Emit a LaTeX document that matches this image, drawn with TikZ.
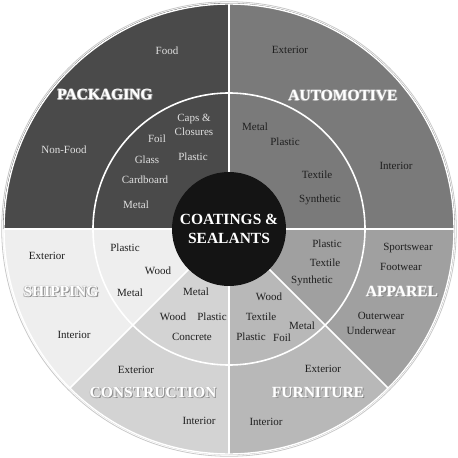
\documentclass[tikz,border=0pt]{standalone}
\usepackage{fontspec}
\setmainfont{Liberation Serif}
\definecolor{packc}{HTML}{4A4A4A}
\definecolor{autoc}{HTML}{7A7A7A}
\definecolor{appc}{HTML}{A0A0A0}
\definecolor{furnc}{HTML}{B8B8B8}
\definecolor{consc}{HTML}{D3D3D3}
\definecolor{shipc}{HTML}{EEEEEE}
\definecolor{rimc}{HTML}{C8C8C8}
\tikzset{
  sub/.style={font=\fontsize{11}{13}\selectfont, text=black!88, inner sep=0pt},
  subl/.style={sub, text=black!12},
  head/.style={font=\bfseries\fontsize{15.5}{18}\selectfont, text=white, inner sep=0pt},
  sep/.style={white, line width=1.6pt}
}
% white title text with a soft glow and shadow
\newcommand{\glowtext}[1]{\leavevmode
  \rlap{\kern1.1pt\raisebox{-1.1pt}{\color{black!50}#1}}%
  \rlap{\kern-0.55pt\raisebox{0.55pt}{\color{black!28}#1}}%
  \rlap{\kern0.55pt\raisebox{0.55pt}{\color{black!28}#1}}%
  \rlap{\kern-0.55pt\raisebox{-0.55pt}{\color{black!28}#1}}%
  #1}
\begin{document}
\begin{tikzpicture}[x=1pt,y=1pt]
		\useasboundingbox (-229,-229) rectangle (229,229);
		% sectors
		\fill[packc] (0,0) -- (90:226) arc[start angle=90,end angle=180,radius=226] -- cycle;
		\fill[autoc] (0,0) -- (0:226) arc[start angle=0,end angle=90,radius=226] -- cycle;
		\fill[appc] (0,0) -- (-45:226) arc[start angle=-45,end angle=0,radius=226] -- cycle;
		\fill[furnc] (0,0) -- (-90:226) arc[start angle=-90,end angle=-45,radius=226] -- cycle;
		\fill[consc] (0,0) -- (-135:226) arc[start angle=-135,end angle=-90,radius=226] -- cycle;
		\fill[shipc] (0,0) -- (180:226) arc[start angle=180,end angle=225,radius=226] -- cycle;
		% rims and separators
		\draw[white, line width=1.4pt] (0,0) circle (225);
		\draw[rimc, line width=0.8pt] (0,0) circle (227.3);
		\draw[sep] (0,0) circle (136);
		\draw[sep] (0,0) -- (0:225);
		\draw[sep] (0,0) -- (90:225);
		\draw[sep] (0,0) -- (180:225);
		\draw[sep] (0,0) -- (-45:225);
		\draw[sep] (0,0) -- (-90:225);
		\draw[sep] (0,0) -- (-135:225);
		\fill[black!92] (0,0) circle (57);
		\draw(0,0)node[head, align=center, font=\bfseries\fontsize{15.5}{19}\selectfont](core){COATINGS \&\\SEALANTS};
		% packaging
		\draw(-124,134)node[head](pack){\glowtext{PACKAGING}};
		\draw(-62,178)node[subl](packFood){Food};
		\draw(-165,79)node[subl](packNon){Non-Food};
		\draw(-35,104)node[subl, align=center, font=\fontsize{11}{14}\selectfont](packCaps){Caps \&\\Closures};
		\draw(-72,90)node[subl](packFoil){Foil};
		\draw(-36,72)node[subl](packPlas){Plastic};
		\draw(-82,69)node[subl](packGlass){Glass};
		\draw(-84,49)node[subl](packCard){Cardboard};
		\draw(-93,24)node[subl](packMetal){Metal};
		% automotive
		\draw(114,133)node[head](auto){\glowtext{AUTOMOTIVE}};
		\draw(61,179)node[sub](autoExt){Exterior};
		\draw(167,63)node[sub](autoInt){Interior};
		\draw(26,102)node[sub](autoMetal){Metal};
		\draw(56,87)node[sub](autoPlas){Plastic};
		\draw(88,54)node[sub](autoText){Textile};
		\draw(91,29)node[sub](autoSyn){Synthetic};
		% apparel
		\draw(173,-63)node[head](app){\glowtext{APPAREL}};
		\draw(98,-15)node[sub](appPlas){Plastic};
		\draw(96,-34)node[sub](appText){Textile};
		\draw(83,-52)node[sub](appSyn){Synthetic};
		\draw(179,-19)node[sub](appSport){Sportswear};
		\draw(172,-38)node[sub](appFoot){Footwear};
		\draw(152,-87)node[sub](appOuter){Outerwear};
		\draw(142,-102)node[sub](appUnder){Underwear};
		% furniture
		\draw(89,-164)node[head](furn){\glowtext{FURNITURE}};
		\draw(40,-68)node[sub](furnWood){Wood};
		\draw(32,-88)node[sub](furnText){Textile};
		\draw(73,-97)node[sub](furnMetal){Metal};
		\draw(22,-108)node[sub](furnPlas){Plastic};
		\draw(53,-109)node[sub](furnFoil){Foil};
		\draw(94,-140)node[sub](furnExt){Exterior};
		\draw(37,-193)node[sub](furnInt){Interior};
		% construction
		\draw(-76,-164)node[head](cons){\glowtext{CONSTRUCTION}};
		\draw(-33,-63)node[sub](consMetal){Metal};
		\draw(-56,-88)node[sub](consWood){Wood};
		\draw(-17,-88)node[sub](consPlas){Plastic};
		\draw(-37,-108)node[sub](consConc){Concrete};
		\draw(-93,-141)node[sub](consExt){Exterior};
		\draw(-30,-192)node[sub](consInt){Interior};
		% shipping
		\draw(-168,-63)node[head](ship){\glowtext{SHIPPING}};
		\draw(-104,-19)node[sub](shipPlas){Plastic};
		\draw(-71,-42)node[sub](shipWood){Wood};
		\draw(-99,-64)node[sub](shipMetal){Metal};
		\draw(-182,-27)node[sub](shipExt){Exterior};
		\draw(-155,-106)node[sub](shipInt){Interior};
	    \end{tikzpicture}
\end{document}
